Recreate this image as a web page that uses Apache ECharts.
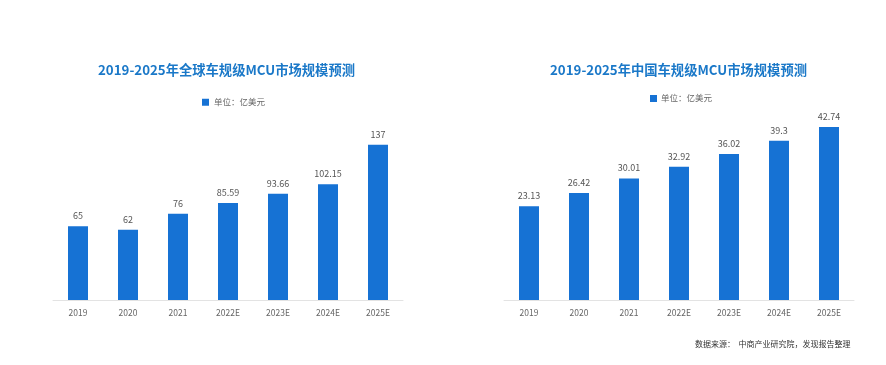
<!DOCTYPE html>
<html><head><meta charset="utf-8">
<script src="https://cdn.jsdelivr.net/npm/echarts@6/dist/echarts.min.js"></script>
<style>html,body{margin:0;padding:0;background:#fff}#c{width:886px;height:365px}</style>
</head><body><div id="c"></div>
<script>
const categories = ['2019','2020','2021','2022E','2023E','2024E','2025E'];
const globalValues = [65, 62, 76, 85.59, 93.66, 102.15, 137];
const chinaValues = [23.13, 26.42, 30.01, 32.92, 36.02, 39.3, 42.74];
const titleGlobal = '2019-2025年全球车规级MCU市场规模预测';
const titleChina = '2019-2025年中国车规级MCU市场规模预测';
const legendName = '单位：亿美元';
const sourceText = '数据来源：  中商产业研究院，发现报告整理';

const font = '"Noto Sans CJK SC","Noto Sans",sans-serif';
const blue = '#1672d4';
const chart = echarts.init(document.getElementById('c'));
function xAxis(i){return {type:'category',gridIndex:i,data:categories,
  axisLine:{lineStyle:{color:'#e3e3e3'}},axisTick:{show:false},
  axisLabel:{color:'#666',fontSize:8.5,fontFamily:font,margin:9}};}
function yAxis(i,max){return {type:'value',gridIndex:i,min:0,max:max,show:false,splitLine:{show:false}};}
function bar(i,data){return {type:'bar',name:legendName,xAxisIndex:i,yAxisIndex:i,data:data,barWidth:20,
  itemStyle:{color:blue},
  label:{show:true,position:'top',distance:6,color:'#555',fontSize:9,fontFamily:font}};}
chart.setOption({
  animation:false,
  title:[
    {text:titleGlobal,left:98,top:63,padding:0,textStyle:{color:'#1a78c8',fontSize:13.3,fontWeight:'bold',fontFamily:font}},
    {text:titleChina,left:550,top:63,padding:0,textStyle:{color:'#1a78c8',fontSize:13.3,fontWeight:'bold',fontFamily:font}},
    {text:sourceText,left:690,top:335,textStyle:{color:'#333',fontSize:8,fontWeight:'normal',fontFamily:font}}
  ],
  legend:[
    {data:[legendName],left:197,top:93,itemWidth:7,itemHeight:7,itemGap:4,icon:'rect',textStyle:{color:'#666',fontSize:8.5,fontFamily:font}},
  ],
  graphic:[
    {type:'rect',left:650,top:95,shape:{width:7,height:7},style:{fill:blue}},
    {type:'text',left:661,top:93.5,style:{text:legendName,fill:'#666',fontSize:8.5,fontFamily:font}}
  ],
  grid:[
    {left:53,width:350,top:130,bottom:65},
    {left:504,width:350,top:97.5,bottom:65}
  ],
  xAxis:[xAxis(0),xAxis(1)],
  yAxis:[yAxis(0,150),yAxis(1,50)],
  series:[bar(0,globalValues),bar(1,chinaValues)]
});
</script></body></html>
